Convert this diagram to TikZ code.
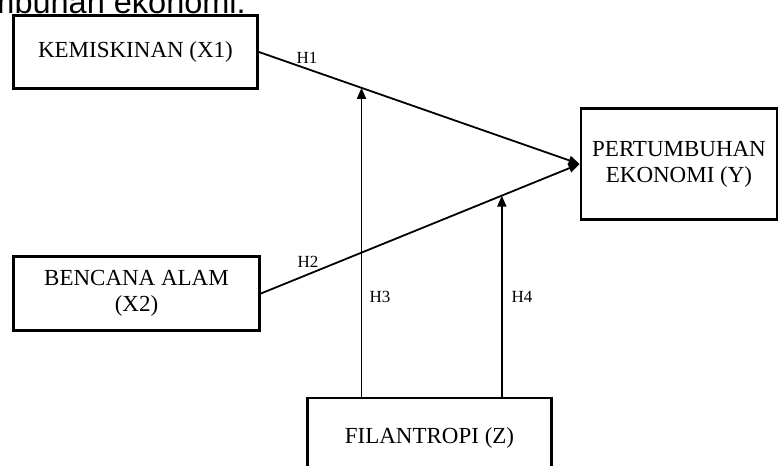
\documentclass[tikz,border=0pt]{standalone}
\usepackage{fontspec}
\setmainfont{Liberation Serif}
\newfontfamily\bodyfont{Liberation Sans}
\usepackage{tikz}
\usetikzlibrary{arrows.meta, calc}

\begin{document}
\begin{tikzpicture}[x=1pt, y=-1pt,
    varbox/.style={draw=black, line width=2.8pt, fill=white, align=center,
      font=\fontsize{23}{26}\selectfont, inner sep=0pt},
    hyplabel/.style={font=\fontsize{17}{20}\selectfont, inner sep=0pt},
    hyparrow/.style={line width=1.8pt, -{Triangle[length=11pt, width=9pt]}}]
      \useasboundingbox (0,0) rectangle (780,466);
      \clip (0,0) rectangle (780,466);

      % tail of the sentence above the figure
      \node[anchor=base east, inner sep=0pt, font=\bodyfont\fontsize{32.5}{38}\selectfont] (caption) at (246,13) {mbuhan ekonomi.};

      \node[varbox, minimum width=244pt, minimum height=73pt] (kem) at (135.5,52) {KEMISKINAN (X1)};
      \node[varbox, minimum width=246pt, minimum height=74pt] (ben) at (136.5,293.5) {BENCANA ALAM\\(X2)};
      \node[varbox, minimum width=196pt, minimum height=111pt] (per) at (679,164) {PERTUMBUHAN\\EKONOMI (Y)};
      \node[varbox, minimum width=244pt, minimum height=80pt] (fil) at (429.5,438) {FILANTROPI (Z)};

      \draw[hyparrow] (kem.east) -- (per.west);
      \draw[hyparrow] (ben.east) -- (per.west);

      \coordinate (m1) at ($(kem.east)!0.32!(per.west)$);
      \coordinate (m2) at ($(ben.east)!0.756!(per.west)$);
      \draw[hyparrow] (m1 |- fil.north) -- (m1);
      \draw[hyparrow] (m2 |- fil.north) -- (m2);

      \node[hyplabel] (h1) at (307,58) {H1};
      \node[hyplabel] (h2) at (308,262) {H2};
      \node[hyplabel] (h3) at (380,297) {H3};
      \node[hyplabel] (h4) at (522,297) {H4};
    \end{tikzpicture}
\end{document}
